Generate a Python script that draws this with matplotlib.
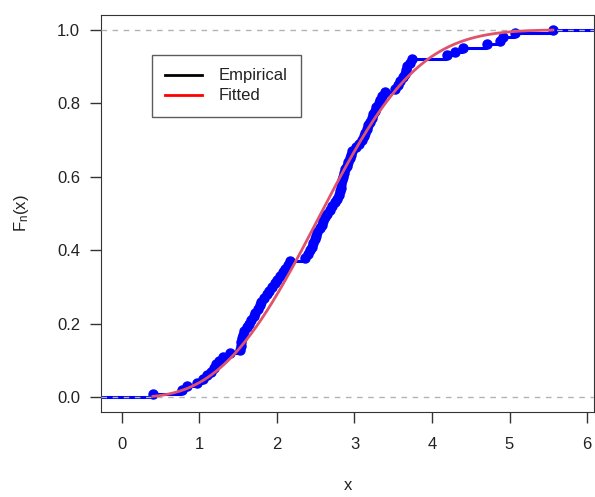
import numpy as np
import matplotlib.pyplot as plt

plt.rcParams['font.family'] = ['Liberation Sans', 'DejaVu Sans']

# sorted sample (n = 100)
muestra = [
    0.40, 0.78, 0.84, 0.97, 1.04, 1.10, 1.15, 1.19, 1.22, 1.25,
    1.31, 1.39, 1.52, 1.53, 1.54, 1.55, 1.56, 1.58, 1.61, 1.64,
    1.67, 1.70, 1.72, 1.75, 1.78, 1.80, 1.83, 1.87, 1.90, 1.94,
    1.97, 2.00, 2.04, 2.08, 2.11, 2.14, 2.17, 2.36, 2.40, 2.42,
    2.45, 2.47, 2.49, 2.51, 2.52, 2.55, 2.58, 2.60, 2.62, 2.65,
    2.68, 2.71, 2.75, 2.77, 2.80, 2.81, 2.82, 2.83, 2.84, 2.85,
    2.86, 2.88, 2.90, 2.92, 2.94, 2.96, 2.97, 3.02, 3.06, 3.10,
    3.12, 3.14, 3.16, 3.18, 3.20, 3.23, 3.24, 3.26, 3.28, 3.31,
    3.33, 3.36, 3.39, 3.52, 3.56, 3.59, 3.62, 3.65, 3.67, 3.68,
    3.71, 3.74, 4.19, 4.30, 4.40, 4.71, 4.88, 4.92, 5.07, 5.56,
]

# weibull fit
forma = 3.0
escala = 2.9

x_ticks = [0, 1, 2, 3, 4, 5, 6]
y_ticks = [0.0, 0.2, 0.4, 0.6, 0.8, 1.0]
x_lim = (-0.27, 6.09)


def main():
    x = np.sort(np.array(muestra))
    n = len(x)
    fn = np.arange(1, n + 1) / n

    fig = plt.figure(figsize=(5.95, 4.97), dpi=100)
    ax = fig.add_axes([101 / 595, 85 / 497, 493 / 595, 397 / 497])

    # horizontal steps of the ecdf
    izq = np.concatenate([[x_lim[0]], x])
    der = np.concatenate([x, [x_lim[1]]])
    niveles = np.concatenate([[0.0], fn])
    ax.hlines(niveles, izq, der, colors='#0000FF', linewidth=2.2, zorder=2)
    ax.plot(x, fn, 'o', color='#0000FF', markersize=6.5, zorder=3)

    for h in (0, 1):
        ax.axhline(h, color='#B3B3B3', linestyle=(0, (4, 4)), linewidth=1, zorder=4)

    xs = np.linspace(x.min(), x.max(), 300)
    ax.plot(xs, 1 - np.exp(-(xs / escala) ** forma), color='#DF536B',
            linewidth=2, zorder=5)

    ax.set_xlim(*x_lim)
    ax.set_ylim(-0.04, 1.04)
    ax.set_xticks(x_ticks)
    ax.set_yticks(y_ticks)
    ax.set_yticklabels([f'{v:.1f}' for v in y_ticks])
    ax.tick_params(length=8, width=1, labelsize=12, color='#333333',
                   labelcolor='#222222')
    ax.tick_params(axis='x', pad=10)
    ax.tick_params(axis='y', pad=7)
    for s in ax.spines.values():
        s.set_color('#333333')
    ax.set_xlabel('x', fontsize=12, labelpad=19, color='#222222')
    ax.set_ylabel(r'$\mathregular{F_n(x)}$', fontsize=12, labelpad=19,
                  color='#222222')

    # legend entries only
    ax.plot([], [], color='black', linewidth=2, label='Empirical')
    ax.plot([], [], color='red', linewidth=2, label='Fitted')
    handles, labels = ax.get_legend_handles_labels()
    leg = fig.legend(handles, labels, loc='upper left',
                     bbox_to_anchor=(152 / 595, 1 - 55 / 497),
                     frameon=True, fancybox=False, edgecolor='#333333',
                     fontsize=12, handlelength=2.2, handletextpad=1.0,
                     borderpad=0.8, labelspacing=0.3, borderaxespad=0)
    leg.get_frame().set_linewidth(1)
    for t in leg.get_texts():
        t.set_color('#222222')

    fig.savefig('out.png', dpi=100)


if __name__ == '__main__':
    main()
